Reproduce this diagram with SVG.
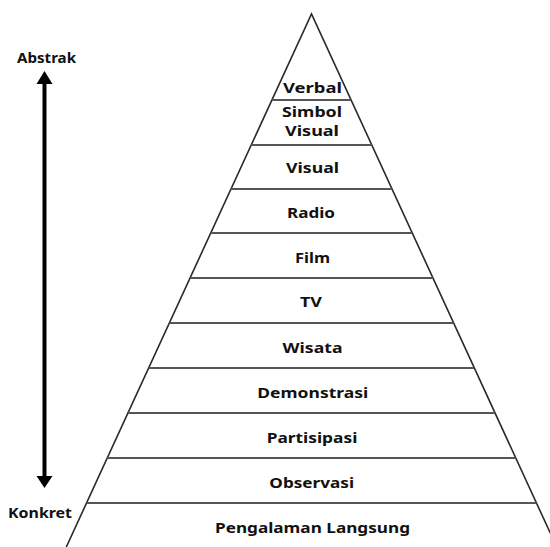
<svg xmlns="http://www.w3.org/2000/svg" width="550" height="547" viewBox="0 0 550 547">
<style>
.lbl{font-family:"Noto Sans","Open Sans","DejaVu Sans",sans-serif;font-weight:bold;font-size:14px;fill:#111;text-anchor:middle}
.side{font-family:"Noto Sans","Open Sans","DejaVu Sans",sans-serif;font-weight:bold;font-size:13.5px;fill:#111}
.edge{stroke:#2a2a2a;stroke-width:1.6;fill:none}
.sep{stroke:#555;stroke-width:2;fill:none}
</style>
<rect width="550" height="547" fill="#fff"/>
<g id="connectors">
<polyline class="edge" points="66.3,547 311.5,14 556.7,547"/>
<line class="sep" x1="271.9" y1="100" x2="351.1" y2="100"/>
<line class="sep" x1="251.2" y1="145" x2="371.8" y2="145"/>
<line class="sep" x1="231" y1="189" x2="392" y2="189"/>
<line class="sep" x1="210.8" y1="233" x2="412.2" y2="233"/>
<line class="sep" x1="190.1" y1="278" x2="432.9" y2="278"/>
<line class="sep" x1="169.4" y1="323" x2="453.6" y2="323"/>
<line class="sep" x1="148.7" y1="368" x2="474.3" y2="368"/>
<line class="sep" x1="128" y1="413" x2="495" y2="413"/>
<line class="sep" x1="107.3" y1="458" x2="515.7" y2="458"/>
<line class="sep" x1="86.6" y1="503" x2="536.4" y2="503"/>
</g>
<g id="arrow">
<line x1="44.5" y1="82" x2="44.5" y2="478" stroke="#000" stroke-width="4"/>
<polygon points="44.5,71 36.5,84 52.5,84" fill="#000"/>
<polygon points="44.5,488 36.5,476 52.5,476" fill="#000"/>
</g>
<g id="abstrak"><text class="side" x="17" y="63" textLength="59" lengthAdjust="spacingAndGlyphs">Abstrak</text></g>
<g id="konkret"><text class="side" x="8" y="518" textLength="64" lengthAdjust="spacingAndGlyphs">Konkret</text></g>
<g id="verbal"><text class="lbl" x="312.5" y="92.5" textLength="59" lengthAdjust="spacingAndGlyphs">Verbal</text></g>
<g id="simbol-visual"><text class="lbl" x="312" y="117" textLength="60" lengthAdjust="spacingAndGlyphs">Simbol</text><text class="lbl" x="312" y="135.5" textLength="54" lengthAdjust="spacingAndGlyphs">Visual</text></g>
<g id="visual"><text class="lbl" x="312.5" y="173.3" textLength="53" lengthAdjust="spacingAndGlyphs">Visual</text></g>
<g id="radio"><text class="lbl" x="311" y="218.3" textLength="48" lengthAdjust="spacingAndGlyphs">Radio</text></g>
<g id="film"><text class="lbl" x="312.5" y="263" textLength="35" lengthAdjust="spacingAndGlyphs">Film</text></g>
<g id="tv"><text class="lbl" x="311" y="307" textLength="22" lengthAdjust="spacingAndGlyphs">TV</text></g>
<g id="wisata"><text class="lbl" x="312.5" y="353" textLength="60" lengthAdjust="spacingAndGlyphs">Wisata</text></g>
<g id="demonstrasi"><text class="lbl" x="312.8" y="398" textLength="111" lengthAdjust="spacingAndGlyphs">Demonstrasi</text></g>
<g id="partisipasi"><text class="lbl" x="312" y="443" textLength="90.7" lengthAdjust="spacingAndGlyphs">Partisipasi</text></g>
<g id="observasi"><text class="lbl" x="311.7" y="488" textLength="84.7" lengthAdjust="spacingAndGlyphs">Observasi</text></g>
<g id="pengalaman-langsung"><text class="lbl" x="312.5" y="533" textLength="195" lengthAdjust="spacingAndGlyphs">Pengalaman Langsung</text></g>
</svg>
